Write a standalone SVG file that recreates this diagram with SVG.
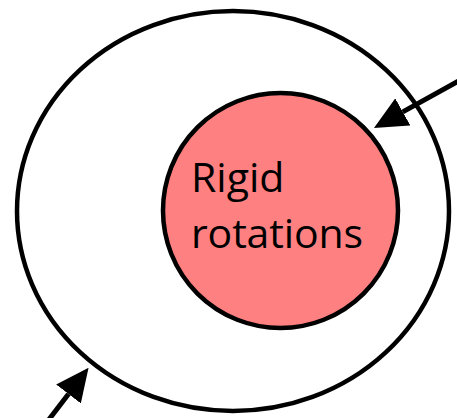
<svg xmlns="http://www.w3.org/2000/svg" width="457" height="418" viewBox="0 0 457 418">
<style>
.outline{stroke:#000;stroke-width:4.5}
.lbl{font-family:"Open Sans","Liberation Sans",sans-serif;font-size:41px;fill:#000}
.conn{stroke:#000;stroke-width:5;fill:none}
</style>
<defs>
<marker id="ah" viewBox="0 0 33 31" markerWidth="33" markerHeight="31" markerUnits="userSpaceOnUse" refX="0" refY="15.5" orient="auto">
<path d="M0,0 L33,15.5 L0,31 z" fill="#000"/>
</marker>
</defs>
<rect width="457" height="418" fill="#fff"/>
<g id="outer">
<ellipse class="outline" cx="233" cy="211" rx="216" ry="200" fill="#fff"/>
</g>
<g id="inner">
<circle class="outline" cx="280.5" cy="210.5" r="117.5" fill="#FF8080"/>
<text class="lbl" x="191" y="192">Rigid</text>
<text class="lbl" x="191" y="248" textLength="172" lengthAdjust="spacing">rotations</text>
</g>
<g id="connectors">
<line class="conn" x1="462" y1="79" x2="402.8" y2="111.9" marker-end="url(#ah)"/>
<line class="conn" x1="44" y1="426" x2="68.5" y2="394" marker-end="url(#ah)"/>
</g>
</svg>
